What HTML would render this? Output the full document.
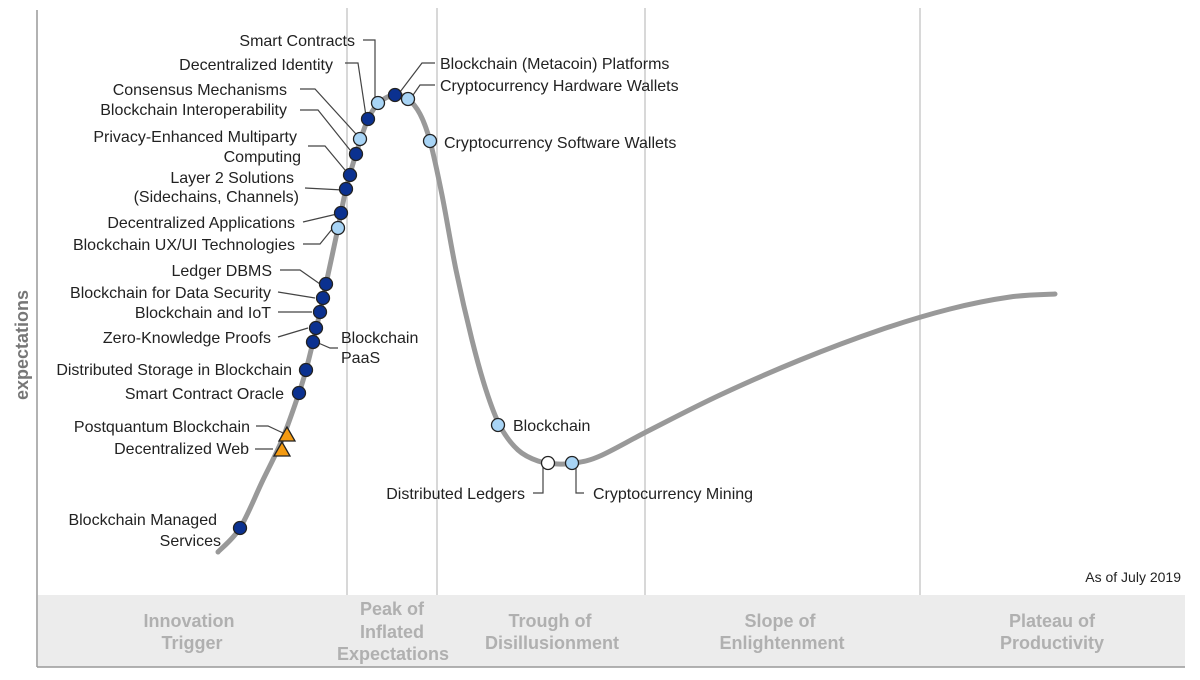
<!DOCTYPE html>
<html><head><meta charset="utf-8"><style>
body{margin:0;background:#fff}
svg text{font-family:"Liberation Sans",Arial,sans-serif;font-size:16px;fill:#222}
svg text.b{font-size:18px;fill:#b0b0b0;font-weight:bold}
</style></head><body>
<svg width="1200" height="675" viewBox="0 0 1200 675" xmlns="http://www.w3.org/2000/svg">
<rect x="38" y="595" width="1147" height="72" fill="#ececec"/>
<g stroke="#ccc" stroke-width="1.5">
<line x1="347" y1="8" x2="347" y2="595"/><line x1="437" y1="8" x2="437" y2="595"/>
<line x1="645" y1="8" x2="645" y2="595"/><line x1="920" y1="8" x2="920" y2="595"/>
</g>
<line x1="37" y1="10" x2="37" y2="667" stroke="#999" stroke-width="1.5"/>
<line x1="37" y1="667" x2="1185" y2="667" stroke="#999" stroke-width="1.5"/>
<text transform="translate(28,345) rotate(-90)" text-anchor="middle" style="font-size:18px;fill:#777;font-weight:bold">expectations</text>
<g text-anchor="middle">
<text class="b" x="189" y="627">Innovation</text><text class="b" x="192" y="649">Trigger</text>
<text class="b" x="392" y="615">Peak of</text><text class="b" x="392" y="638">Inflated</text><text class="b" x="393" y="660">Expectations</text>
<text class="b" x="550" y="627">Trough of</text><text class="b" x="552" y="649">Disillusionment</text>
<text class="b" x="780" y="627">Slope of</text><text class="b" x="782" y="649">Enlightenment</text>
<text class="b" x="1052" y="627">Plateau of</text><text class="b" x="1052" y="649">Productivity</text>
</g>
<text x="1181" y="582" text-anchor="end" style="font-size:14px">As of July 2019</text>
<path id="curve" fill="none" stroke="#999" stroke-width="5" stroke-linecap="round" d=""/>
<g fill="none" stroke="#444" stroke-width="1.2">
<path d="M363,40 H375 V100"/><path d="M345,63 H358 L366,116"/><path d="M300,89 H315 L356,134"/><path d="M300,110 H318 L350,150"/>
<path d="M308,146 H325 L345,170"/><path d="M305,188 L343,190"/><path d="M303,222 L337,214"/><path d="M303,244 H320 L333,228"/>
<path d="M280,270 H300 L320,284"/><path d="M278,292 L315,298"/><path d="M278,312 L312,312"/><path d="M278,337 L308,328"/>
<path d="M338,348 H330 L316,342"/><path d="M256,426 H268 L283,433"/><path d="M255,449 H273"/>
<path d="M435,63 H422 L400,92"/><path d="M435,85 H420 L411,98"/>
<path d="M533,493 H543 V466"/><path d="M584,493 H576 V466"/>
</g>
<g stroke="#222" stroke-width="1.3">
<circle cx="240" cy="528" r="6.5" fill="#0b3190"/>
<circle cx="299" cy="393" r="6.5" fill="#0b3190"/>
<circle cx="306" cy="370" r="6.5" fill="#0b3190"/>
<circle cx="313" cy="342" r="6.5" fill="#0b3190"/>
<circle cx="316" cy="328" r="6.5" fill="#0b3190"/>
<circle cx="320" cy="312" r="6.5" fill="#0b3190"/>
<circle cx="323" cy="298" r="6.5" fill="#0b3190"/>
<circle cx="326" cy="284" r="6.5" fill="#0b3190"/>
<circle cx="338" cy="228" r="6.5" fill="#a8d4f5"/>
<circle cx="341" cy="213" r="6.5" fill="#0b3190"/>
<circle cx="346" cy="189" r="6.5" fill="#0b3190"/>
<circle cx="350" cy="175" r="6.5" fill="#0b3190"/>
<circle cx="356" cy="154" r="6.5" fill="#0b3190"/>
<circle cx="360" cy="139" r="6.5" fill="#a8d4f5"/>
<circle cx="368" cy="119" r="6.5" fill="#0b3190"/>
<circle cx="378" cy="103" r="6.5" fill="#a8d4f5"/>
<circle cx="395" cy="95" r="6.5" fill="#0b3190"/>
<circle cx="408" cy="99" r="6.5" fill="#a8d4f5"/>
<circle cx="430" cy="141" r="6.5" fill="#a8d4f5"/>
<circle cx="498" cy="425" r="6.5" fill="#a8d4f5"/>
<circle cx="548" cy="463" r="6.5" fill="#fff"/>
<circle cx="572" cy="463" r="6.5" fill="#a8d4f5"/>
<polygon points="287,427 279,441 295,441" fill="#f39a12"/>
<polygon points="282,442 274,456 290,456" fill="#f39a12"/>
</g>
<g text-anchor="end">
<text x="355" y="46">Smart Contracts</text>
<text x="333" y="70">Decentralized Identity</text>
<text x="287" y="95">Consensus Mechanisms</text>
<text x="287" y="115">Blockchain Interoperability</text>
<text x="297" y="142">Privacy-Enhanced Multiparty</text>
<text x="301" y="162">Computing</text>
<text x="294" y="183">Layer 2 Solutions</text>
<text x="299" y="202">(Sidechains, Channels)</text>
<text x="295" y="228">Decentralized Applications</text>
<text x="295" y="250">Blockchain UX/UI Technologies</text>
<text x="272" y="276">Ledger DBMS</text>
<text x="271" y="298">Blockchain for Data Security</text>
<text x="271" y="318">Blockchain and IoT</text>
<text x="271" y="343">Zero-Knowledge Proofs</text>
<text x="292" y="375">Distributed Storage in Blockchain</text>
<text x="284" y="399">Smart Contract Oracle</text>
<text x="250" y="432">Postquantum Blockchain</text>
<text x="249" y="454">Decentralized Web</text>
<text x="217" y="525">Blockchain Managed</text>
<text x="221" y="546">Services</text>
<text x="525" y="499">Distributed Ledgers</text>
</g>
<text x="341" y="343">Blockchain</text><text x="341" y="363">PaaS</text>
<text x="440" y="69">Blockchain (Metacoin) Platforms</text>
<text x="440" y="91">Cryptocurrency Hardware Wallets</text>
<text x="444" y="148">Cryptocurrency Software Wallets</text>
<text x="513" y="431">Blockchain</text>
<text x="593" y="499">Cryptocurrency Mining</text>
</svg>
<script>
var p=[[218,552],[240,528],[262,482],[282,440],[299,393],[306,370],[313,342],[320,312],[326,284],[338,228],[346,189],[356,154],[368,119],[380,102],[395,95],[408,99],[420,114],[430,141],[442,195],[456,270],[472,340],[486,390],[500,426],[518,450],[538,461],[558,464],[575,463],[600,456],[650,430],[720,395],[800,360],[880,330],[950,309],[1010,297],[1055,294]];
var d="M"+p[0];
for(var i=0;i<p.length-1;i++){var a=p[Math.max(i-1,0)],b=p[i],c=p[i+1],e=p[Math.min(i+2,p.length-1)];
d+=" C"+(b[0]+(c[0]-a[0])/6)+","+(b[1]+(c[1]-a[1])/6)+" "+(c[0]-(e[0]-b[0])/6)+","+(c[1]-(e[1]-b[1])/6)+" "+c;}
document.getElementById("curve").setAttribute("d",d);
</script>
</body></html>
